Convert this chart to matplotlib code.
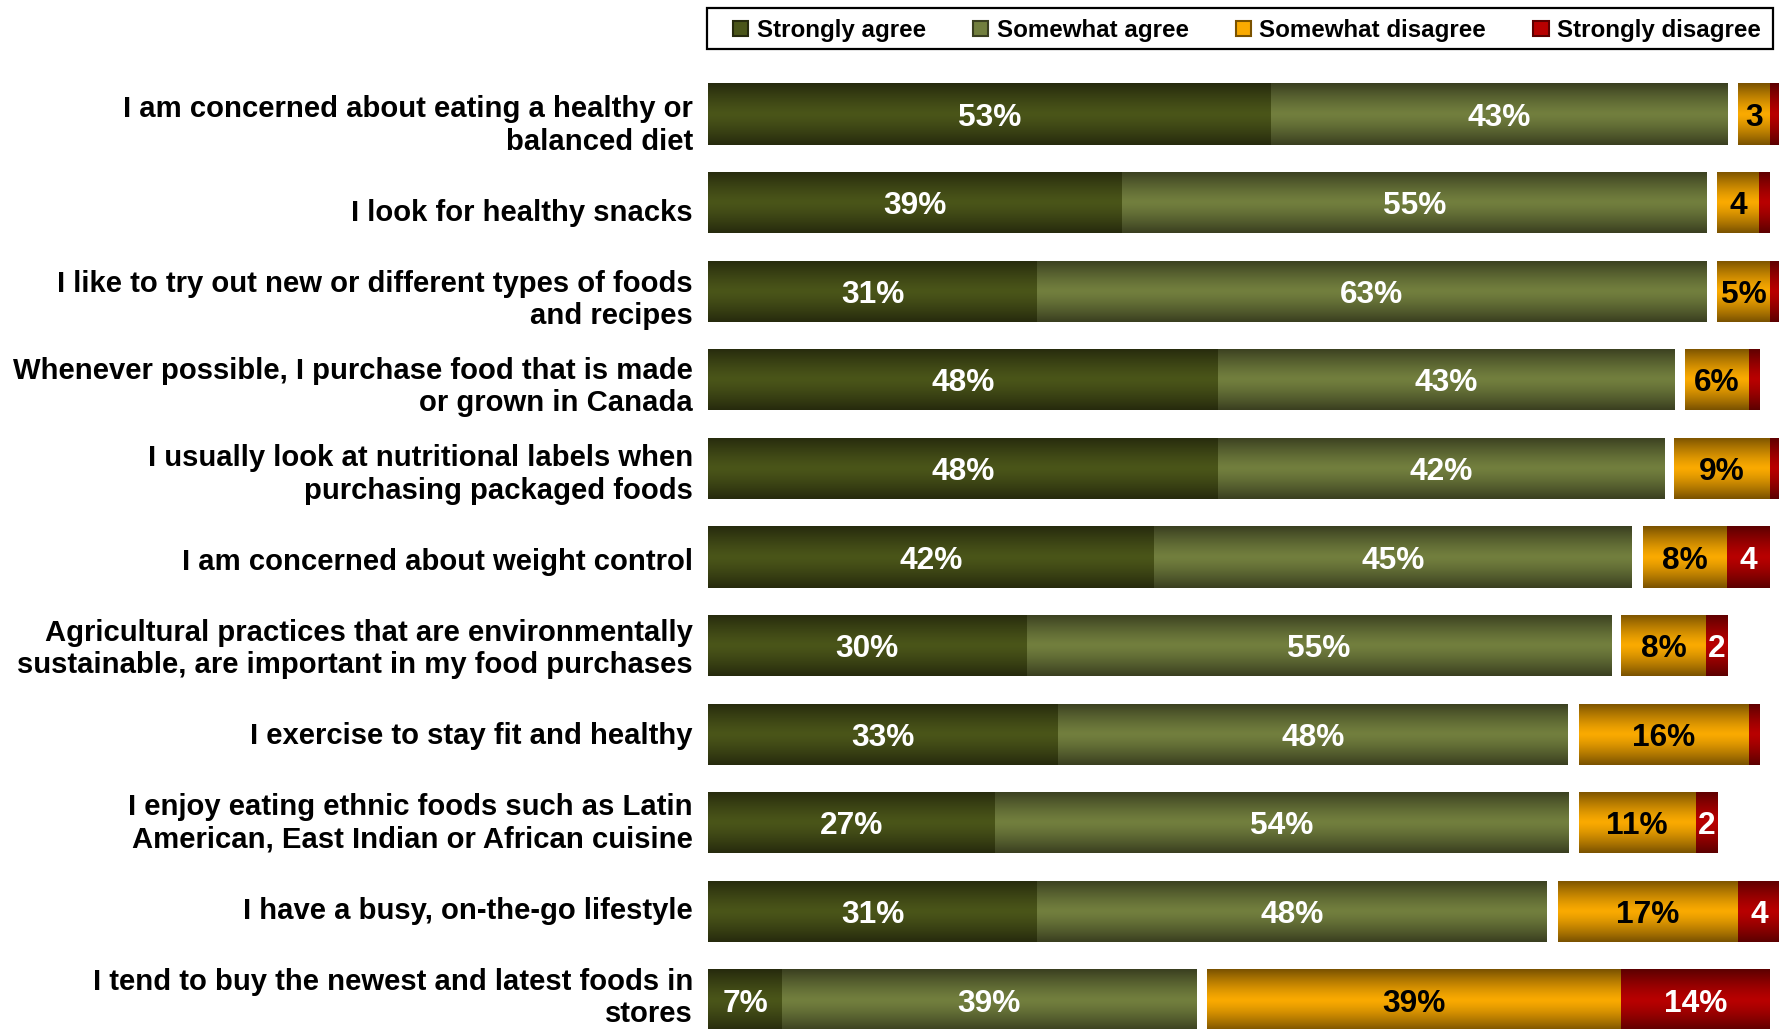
import numpy as np
import matplotlib
matplotlib.use("Agg")
import matplotlib.pyplot as plt
from matplotlib.colors import LinearSegmentedColormap
from matplotlib.patches import Patch, Rectangle
from matplotlib.transforms import ScaledTranslation

# Survey statements (top to bottom)
statements = [
    "I am concerned about eating a healthy or\nbalanced diet",
    "I look for healthy snacks",
    "I like to try out new or different types of foods\nand recipes",
    "Whenever possible, I purchase food that is made\nor grown in Canada",
    "I usually look at nutritional labels when\npurchasing packaged foods",
    "I am concerned about weight control",
    "Agricultural practices that are environmentally\nsustainable, are important in my food purchases",
    "I exercise to stay fit and healthy",
    "I enjoy eating ethnic foods such as Latin\nAmerican, East Indian or African cuisine",
    "I have a busy, on-the-go lifestyle",
    "I tend to buy the newest and latest foods in\nstores",
]

# Response shares (%)
strongly_agree = [53, 39, 31, 48, 48, 42, 30, 33, 27, 31, 7]
somewhat_agree = [43, 55, 63, 43, 42, 45, 55, 48, 54, 48, 39]
somewhat_disagree = [3, 4, 5, 6, 9, 8, 8, 16, 11, 17, 39]
strongly_disagree = [1, 1, 1, 1, 1, 4, 2, 1, 2, 4, 14]

series_names = ["Strongly agree", "Somewhat agree", "Somewhat disagree", "Strongly disagree"]

# (edge colour, centre colour, label colour) for the shaded bars
styles = [
    ("#262a0d", "#4a5519", "white"),
    ("#3a3f20", "#727f3e", "white"),
    ("#7a5200", "#faaa00", "black"),
    ("#5c0000", "#b80000", "white"),
]

GAP = 1.0          # space between the agree and disagree blocks
BAR_H = 0.69
FONT = "Liberation Sans"

W, H = 1779, 1029
fig = plt.figure(figsize=(W / 100, H / 100), dpi=100)
ax = fig.add_axes([708 / W, 0, 1 - 708 / W, 1])

y = np.arange(len(statements))
sa = np.array(strongly_agree, float)
wa = np.array(somewhat_agree, float)
wd = np.array(somewhat_disagree, float)
sd = np.array(strongly_disagree, float)

starts = [np.zeros_like(sa), sa, sa + wa + GAP, sa + wa + GAP + wd]
values = [sa, wa, wd, sd]

grad = np.abs(np.linspace(-1, 1, 96))[:, None]
val_tr = ax.transData + ScaledTranslation(0, -0.035, fig.dpi_scale_trans)

for k, (left, vals) in enumerate(zip(starts, values)):
    edge, mid, tcol = styles[k]
    cmap = LinearSegmentedColormap.from_list(f"g{k}", [mid, edge])
    bars = ax.barh(y, vals, left=left, height=BAR_H, color=mid, linewidth=0)
    for bar in bars:
        x0, yb = bar.get_x(), bar.get_y()
        im = ax.imshow(grad ** 1.3, cmap=cmap, vmin=0, vmax=1, aspect="auto",
                       interpolation="bilinear",
                       extent=[x0, x0 + bar.get_width(), yb + bar.get_height(), yb],
                       zorder=2)
        im.set_clip_path(bar)
    for yi, l0, v in zip(y, left, vals):
        if v < 2:
            continue
        txt = f"{int(v)}%" if v >= 5 else f"{int(v)}"
        ax.text(l0 + v / 2, yi, txt, ha="center", va="center", color=tcol,
                fontsize=22.8, fontweight="bold", family=FONT, zorder=3,
                transform=val_tr)

ax.set_xlim(0, 100.85)
ax.set_ylim(10.327, -1.287)
ax.set_aspect("auto")
ax.axis("off")

# Statement labels in their own column to the left of the bars
lax = fig.add_axes([0, 0, 708 / W, 1])
lax.set_xlim(0, 1)
lax.set_ylim(10.356, -1.438)
lax.axis("off")
for yi, s in zip(y, statements):
    lax.text(1 - 15 / 708, yi, s, ha="right", va="center", ma="right",
             fontsize=21.1, fontweight="bold", family=FONT, color="black",
             linespacing=1.2)

# Legend with a framed box across the top
handles = [Patch(facecolor=st[1], edgecolor=st[0], linewidth=1.5) for st in styles]
fig.legend(handles, series_names, loc="center left", ncol=4,
           bbox_to_anchor=(733 / W, 1 - 30.5 / H), frameon=False,
           borderpad=0, borderaxespad=0, handlelength=0.63, handleheight=0.63,
           handletextpad=0.35, columnspacing=1.95,
           prop={"family": FONT, "weight": "bold", "size": 17.4})
fig.add_artist(Rectangle((707 / W, 1 - 49 / H), (1773 - 707) / W, 41 / H,
                         transform=fig.transFigure, fill=False,
                         edgecolor="black", linewidth=1.6))

fig.savefig("out.png", dpi=100)
